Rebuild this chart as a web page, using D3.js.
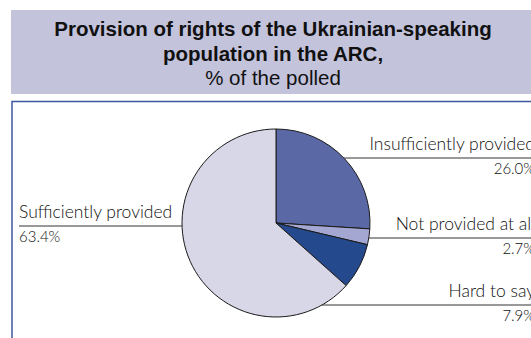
<!DOCTYPE html>
<html>
<head>
<meta charset="utf-8">
<script src="https://cdn.jsdelivr.net/npm/d3@7"></script>
<style>
  html, body { margin: 0; padding: 0; background: #fff; overflow: hidden; }
  svg { display: block; }
</style>
</head>
<body>
<svg id="chart" width="531" height="338"></svg>
<script>
// Survey answers, clockwise from 12 o'clock
const categories = ["Insufficiently provided", "Not provided at all", "Hard to say", "Sufficiently provided"];
const shares = [26.0, 2.7, 7.9, 63.4];
const valueLabels = ["26.0%", "2.7%", "7.9%", "63.4%"];
const sliceColors = ["#5b68a6", "#a4a7d2", "#24498c", "#d7d7e8"];

const titleLines = ["Provision of rights of the Ukrainian-speaking", "population in the ARC,", "% of the polled"];

// Label placement: side of the pie and the y of each leader line
const labelLayout = [
  { side: "right", lineY: 158 },
  { side: "right", lineY: 238 },
  { side: "right", lineY: 305 },
  { side: "left",  lineY: 226 }
];

const W = 531, H = 338;
const svg = d3.select("#chart");

// Title band
svg.append("rect").attr("x", 11).attr("y", 10).attr("width", W - 11).attr("height", 84)
  .attr("fill", "#c3c3dc");
const titleY = [36, 61, 85];
titleLines.forEach((t, i) => {
  svg.append("text")
    .attr("x", 273).attr("y", titleY[i])
    .attr("text-anchor", "middle")
    .attr("font-family", "Liberation Sans, Arial, sans-serif")
    .attr("font-size", 20.5)
    .attr("font-weight", i < 2 ? "bold" : "normal")
    .attr("fill", "#111")
    .text(t);
});

// Frame around the chart area
svg.append("path")
  .attr("d", `M12,${H + 2} V101.5 H${W + 2}`)
  .attr("fill", "none").attr("stroke", "#3d56a0").attr("stroke-width", 1.5);

// Pie
const cx = 276, cy = 223, r = 94;
const pie = d3.pie().sort(null).value(d => d)(shares);
const arc = d3.arc().innerRadius(0).outerRadius(r);
const g = svg.append("g").attr("transform", `translate(${cx},${cy})`);
g.selectAll("path").data(pie).join("path")
  .attr("d", arc)
  .attr("fill", (d, i) => sliceColors[i])
  .attr("stroke", "#1a1a1a").attr("stroke-width", 1);

// Leader lines and labels
const labelFont = "Lato, 'Open Sans', sans-serif";
categories.forEach((name, i) => {
  const L = labelLayout[i];
  const dy = L.lineY - cy;
  const edge = Math.sqrt(Math.max(0, r * r - dy * dy));
  const right = L.side === "right";
  const tx = right ? 535 : 19;
  svg.append("line")
    .attr("x1", right ? cx + edge : 19).attr("x2", right ? W + 5 : cx - edge)
    .attr("y1", L.lineY).attr("y2", L.lineY)
    .attr("stroke", "#333").attr("stroke-width", 1);
  svg.append("text").attr("x", tx).attr("y", L.lineY - 8)
    .attr("text-anchor", right ? "end" : "start").attr("font-family", labelFont)
    .attr("font-weight", 300).attr("font-size", 17.5).attr("fill", "#111")
    .text(name);
  svg.append("text").attr("x", tx).attr("y", L.lineY + 16)
    .attr("text-anchor", right ? "end" : "start").attr("font-family", labelFont)
    .attr("font-weight", 300).attr("font-size", 15).attr("fill", "#111")
    .text(valueLabels[i]);
});
</script>
</body>
</html>
